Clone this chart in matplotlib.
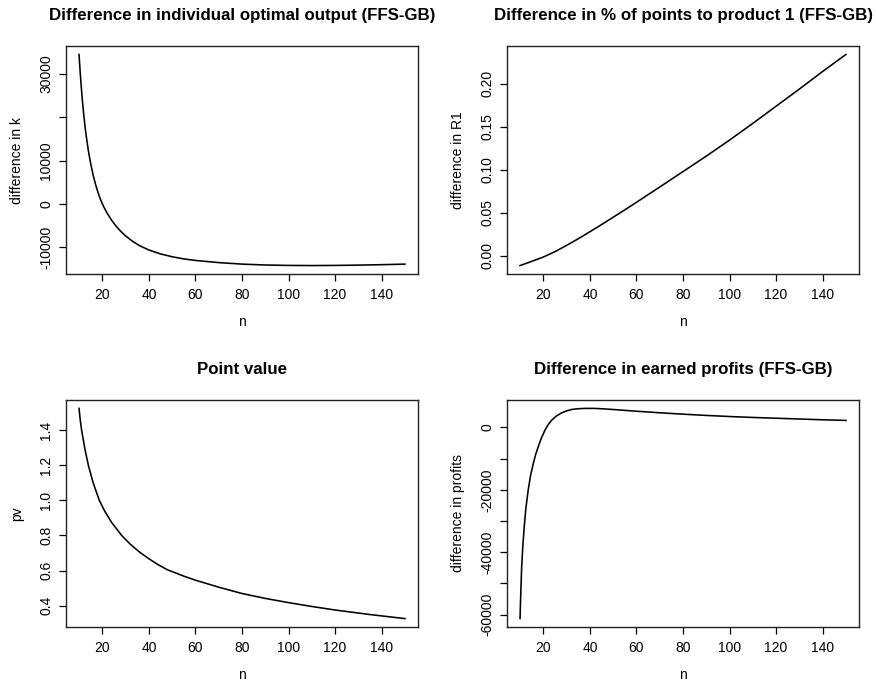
import matplotlib
matplotlib.use("Agg")
import matplotlib.pyplot as plt

plt.rcParams['font.family'] = ['Liberation Sans', 'DejaVu Sans']

# Panel 1: difference in individual optimal output k (FFS-GB)
n_k = [10, 10.5, 11, 11.5, 12, 12.5, 13, 14, 15, 16, 17, 18, 19, 20, 21, 22, 24, 26, 28,
       30, 33, 36, 40, 45, 50, 55, 60, 70, 80, 90, 100, 110, 120, 130, 140, 150]
diff_k = [34450, 30300, 26700, 23500, 20700, 18200, 16000, 12300, 9300, 6800, 4700, 2900,
          1350, 50, -1050, -2050, -3750, -5150, -6350, -7350, -8600, -9600, -10600, -11500,
          -12150, -12650, -13000, -13500, -13850, -14050, -14150, -14180, -14150, -14080,
          -13980, -13850]

# Panel 2: difference in % of points to product 1 (FFS-GB)
n_r1 = [10, 12, 14, 16, 18, 20, 25, 30, 35, 40, 45, 50, 55, 60, 70, 80, 90, 100, 110, 120,
        130, 140, 150]
diff_r1 = [-0.0117, -0.0098, -0.0078, -0.0058, -0.0038, -0.0018, 0.0045, 0.0118, 0.0195,
           0.0277, 0.036, 0.0446, 0.0532, 0.062, 0.0798, 0.0978, 0.1158, 0.1345, 0.154,
           0.174, 0.194, 0.2145, 0.2343]

# Panel 3: point value
n_pv = [10, 10.5, 11.1, 12.5, 14, 16, 18.7, 21, 24, 28.3, 32, 36, 40, 44, 48, 55, 60, 70,
        80, 90, 100, 110, 120, 135, 150]
pv = [1.524, 1.46, 1.40, 1.294, 1.20, 1.103, 1.0, 0.939, 0.874, 0.80, 0.750, 0.705, 0.667,
      0.633, 0.604, 0.568, 0.545, 0.505, 0.469, 0.441, 0.417, 0.395, 0.375, 0.349, 0.326]

# Panel 4: difference in earned profits (FFS-GB)
n_pr = [10, 10.3, 10.7, 11.2, 11.8, 12.5, 13.5, 14.5, 15.7, 16.7, 17.8, 19, 20.7, 22, 23.6,
        25.5, 27.9, 30, 32.2, 35, 38, 42, 46, 50, 60, 70, 80, 90, 100, 110, 120, 130, 140,
        150]
diff_pr = [-61300, -53500, -44700, -38000, -31900, -26000, -20100, -15500, -11550, -8700,
           -6220, -3700, -870, 800, 2340, 3600, 4690, 5300, 5770, 6000, 6100, 6100, 5950,
           5750, 5200, 4700, 4250, 3850, 3500, 3200, 2950, 2700, 2450, 2250]

x_ticks = [20, 40, 60, 80, 100, 120, 140]

panels = [
    dict(x=n_k, y=diff_k, title="Difference in individual optimal output (FFS-GB)",
         ylabel="difference in k",
         yticks=[-10000, 0, 10000, 20000, 30000],
         ylabels=["-10000", "0", "10000", "", "30000"]),
    dict(x=n_r1, y=diff_r1, title="Difference in % of points to product 1 (FFS-GB)",
         ylabel="difference in R1",
         yticks=[0.0, 0.05, 0.10, 0.15, 0.20],
         ylabels=["0.00", "0.05", "0.10", "0.15", "0.20"]),
    dict(x=n_pv, y=pv, title="Point value", ylabel="pv",
         yticks=[0.4, 0.6, 0.8, 1.0, 1.2, 1.4],
         ylabels=["0.4", "0.6", "0.8", "1.0", "1.2", "1.4"]),
    dict(x=n_pr, y=diff_pr, title="Difference in earned profits (FFS-GB)",
         ylabel="difference in profits",
         yticks=[-60000, -50000, -40000, -30000, -20000, -10000, 0],
         ylabels=["-60000", "", "-40000", "", "-20000", "", "0"]),
]

W, H = 876, 680
fig = plt.figure(figsize=(W / 100, H / 100), dpi=100)
boxes = [(66, 46, 418, 274), (507, 46, 859, 274), (66, 400, 418, 627), (507, 400, 859, 627)]

for p, (l, t, r, b) in zip(panels, boxes):
    ax = fig.add_axes([l / W, 1 - b / H, (r - l) / W, (b - t) / H])
    ax.plot(p["x"], p["y"], color="black", lw=1.15, solid_joinstyle="round")
    xmin, xmax = min(p["x"]), max(p["x"])
    ymin, ymax = min(p["y"]), max(p["y"])
    dx, dy = (xmax - xmin) * 0.04, (ymax - ymin) * 0.04
    ax.set_xlim(xmin - dx, xmax + dx)
    ax.set_ylim(ymin - dy, ymax + dy)
    ax.set_xticks(x_ticks)
    ax.set_xticklabels([str(v) for v in x_ticks])
    ax.set_yticks(p["yticks"])
    ax.set_yticklabels(p["ylabels"], rotation=90, va="center")
    ax.tick_params(axis="both", direction="out", length=5, width=0.9, labelsize=10,
                   colors="black")
    ax.tick_params(axis="x", pad=5.2)
    ax.tick_params(axis="y", pad=4.3)
    for s in ax.spines.values():
        s.set_linewidth(1.0)
        s.set_color("#222222")
    hax = b - t
    wax = r - l
    ax.text(0.5, 1 + 30.5 / hax, p["title"], transform=ax.transAxes, ha="center",
            va="center", fontsize=12.2, fontweight="bold")
    ax.set_xlabel("n", fontsize=10)
    ax.xaxis.set_label_coords(0.5, -48 / hax)
    ax.xaxis.label.set_va("center")
    ax.set_ylabel(p["ylabel"], fontsize=10)
    ax.yaxis.set_label_coords(-49 / wax, 0.5)
    ax.yaxis.label.set_va("center")

fig.savefig("out.png", dpi=100)
